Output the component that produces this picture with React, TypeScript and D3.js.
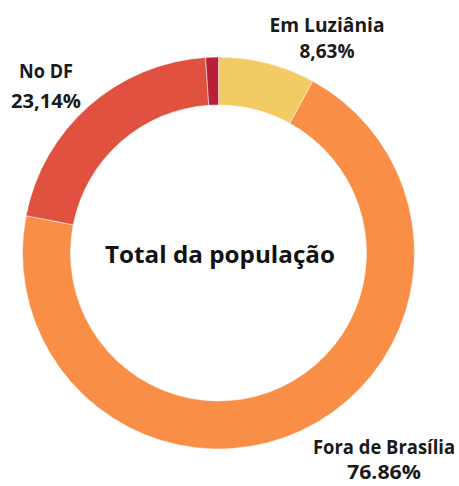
import React from "react";
import * as d3 from "d3";

const categories = ["Em Luziânia", "Fora de Brasília", "No DF", "Outro"];
const values = [8.0, 70.05, 20.9, 1.05];
const colors = ["#F2CB63", "#F98E47", "#E0513F", "#B82039"];

const labelNames = ["Em Luziânia", "Fora de Brasília", "No DF"];
const labelValues = ["8,63%", "76.86%", "23,14%"];
const centerTitle = "Total da população";

const W = 459;
const H = 486;
const cx = 218.5;
const cy = 253;
const outerR = 196;
const innerR = 148;

// label placements (name line, value line) : x center, baselines, widths
const labelPos = [
  { x: 327, y1: 32, y2: 58, w1: 115, w2: 55 },
  { x: 384, y1: 454, y2: 479, w1: 142, w2: 74 },
  { x: 46, y1: 78, y2: 108, w1: 54, w2: 70 },
];

export default function App() {
  const data = categories.map((c, i) => ({ c, v: values[i], color: colors[i] }));
  const pie = d3
    .pie<{ c: string; v: number; color: string }>()
    .value((d) => d.v)
    .sort(null);
  const arcs = pie(data);
  const arc = d3
    .arc<d3.PieArcDatum<{ c: string; v: number; color: string }>>()
    .innerRadius(innerR)
    .outerRadius(outerR);

  const font = "'Open Sans', 'Noto Sans', sans-serif";

  return (
    <svg
      width={W}
      height={H}
      style={{ position: "absolute", left: 0, top: 0, background: "#fff" }}
    >
      <rect x={0} y={0} width={W} height={H} fill="#fff" />
      <g transform={`translate(${cx},${cy})`}>
        {arcs.map((a, i) => (
          <path key={i} d={arc(a) || ""} fill={a.data.color} stroke="#fff" strokeWidth={0.5} />
        ))}
      </g>
      <text
        x={220}
        y={263}
        textAnchor="middle"
        fontFamily={font}
        fontWeight={700}
        fontSize={23}
        fill="#111"
        textLength={230}
        lengthAdjust="spacingAndGlyphs"
      >
        {centerTitle}
      </text>
      {labelNames.map((n, i) => {
        const p = labelPos[i];
        return (
          <g key={n}>
            <text
              x={p.x}
              y={p.y1}
              textAnchor="middle"
              fontFamily={font}
              fontWeight={700}
              fontSize={19}
              fill="#1a1a1a"
              textLength={p.w1}
              lengthAdjust="spacingAndGlyphs"
            >
              {n}
            </text>
            <text
              x={p.x}
              y={p.y2}
              textAnchor="middle"
              fontFamily={font}
              fontWeight={700}
              fontSize={19}
              fill="#1a1a1a"
              textLength={p.w2}
              lengthAdjust="spacingAndGlyphs"
            >
              {labelValues[i]}
            </text>
          </g>
        );
      })}
    </svg>
  );
}
